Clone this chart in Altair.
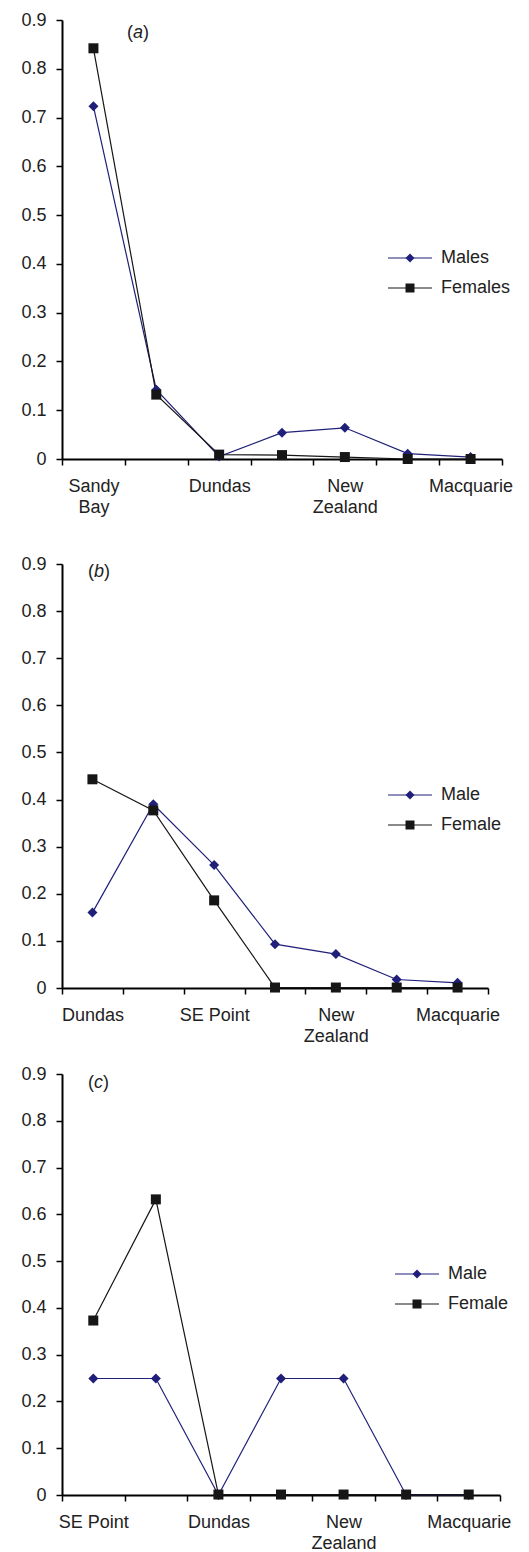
import altair as alt
import pandas as pd

FONT = "Liberation Sans"
NAVY = "#20207a"
BLACK = "#161616"

# ---- data ----
sites_a = ["Sandy Bay", " ", "Dundas", "  ", "New Zealand", "   ", "Macquarie"]
males_a = [0.723, 0.142, 0.005, 0.054, 0.064, 0.011, 0.004]
females_a = [0.842, 0.132, 0.009, 0.008, 0.004, 0.0, 0.0]

sites_b = ["Dundas", " ", "SE Point", "  ", "New Zealand", "   ", "Macquarie"]
males_b = [0.160, 0.390, 0.261, 0.093, 0.072, 0.018, 0.011]
females_b = [0.443, 0.377, 0.186, 0.001, 0.001, 0.001, 0.001]

sites_c = ["SE Point", " ", "Dundas", "  ", "New Zealand", "   ", "Macquarie"]
males_c = [0.249, 0.249, 0.0, 0.249, 0.249, 0.0, 0.0]
females_c = [0.373, 0.632, 0.001, 0.001, 0.001, 0.001, 0.001]

legend_a = ["Males", "Females"]
legend_bc = ["Male", "Female"]
marker_keys = ["m", "f"]
y_ticks = [0, 0.1, 0.2, 0.3, 0.4, 0.5, 0.6, 0.7, 0.8, 0.9]

LINE_SYMBOL = "M-4.9,0H4.9"

LABEL_EXPR = ("!isValid(datum.value) || trim(datum.value) == '' ? '' : "
              "(datum.value == 'SE Point' ? datum.value : split(datum.value, ' '))")


def panel(sites, male, female, labels, tag, tag_w, w, h, lx, ly, tx, ty):
    n = len(sites)
    df = pd.DataFrame({
        "site": sites + sites,
        "sex": [labels[0]] * n + [labels[1]] * n,
        "marker": [marker_keys[0]] * n + [marker_keys[1]] * n,
        "value": male + female,
        "idx": list(range(n)) * 2,
    })
    x = alt.X(
        "site:N", sort=sites,
        scale=alt.Scale(type="band", paddingInner=0, paddingOuter=0),
        axis=alt.Axis(
            title=None, labelAngle=0, tickBand="extent", labelPadding=12,
            labelLineHeight=21, labelExpr=LABEL_EXPR,
        ),
    )
    y = alt.Y(
        "value:Q", scale=alt.Scale(domain=[0, 0.9], nice=False),
        axis=alt.Axis(title=None, values=y_ticks, format="~g", labelPadding=10),
    )
    common = dict(title=None, orient="none", legendX=lx, legendY=ly, labelFont=FONT,
                  labelFontSize=18, labelColor="#222222", symbolSize=81,
                  rowPadding=12, labelOffset=22, padding=0)
    line_leg = alt.Legend(symbolType=LINE_SYMBOL, symbolStrokeWidth=1.2, **common)
    mark_leg = alt.Legend(labelExpr="''", symbolStrokeWidth=0, **common)

    base = alt.Chart(df)
    lines = base.mark_line(strokeWidth=1.2).encode(
        x=x, y=y, order="idx:Q",
        color=alt.Color("sex:N", scale=alt.Scale(domain=labels, range=[NAVY, BLACK]),
                        legend=line_leg),
    )
    pts = base.mark_point(filled=True, size=100, opacity=1).encode(
        x=x, y=y,
        fill=alt.Fill("marker:N", scale=alt.Scale(domain=marker_keys, range=[NAVY, BLACK]),
                      legend=mark_leg),
        shape=alt.Shape("marker:N", scale=alt.Scale(domain=marker_keys, range=["diamond", "square"]),
                        legend=mark_leg),
    )
    tdf = pd.DataFrame({"t": [0]})
    t1 = alt.Chart(tdf).mark_text(text="(", font=FONT, fontSize=18, align="left",
                                  baseline="middle", color="#222222").encode(
        x=alt.value(tx), y=alt.value(ty))
    t2 = alt.Chart(tdf).mark_text(text=tag, font=FONT, fontSize=18, fontStyle="italic",
                                  align="left", baseline="middle", color="#222222").encode(
        x=alt.value(tx + 6), y=alt.value(ty))
    t3 = alt.Chart(tdf).mark_text(text=")", font=FONT, fontSize=18, align="left",
                                  baseline="middle", color="#222222").encode(
        x=alt.value(tx + 6 + tag_w), y=alt.value(ty))
    return alt.layer(lines, pts, t1, t2, t3).properties(width=w, height=h)


pa = panel(sites_a, males_a, females_a, legend_a, "a", 10, 440, 439, 339, 229, 65, 13)
pb = panel(sites_b, males_b, females_b, legend_bc, "b", 10, 426, 424, 339, 222, 26, 8)
pc = panel(sites_c, males_c, females_c, legend_bc, "c", 9, 438, 421, 346, 191, 26, 9)

ind = dict(color="independent", fill="independent", shape="independent")
lower = alt.vconcat(pb, pc, spacing=20).resolve_scale(**ind).resolve_legend(**ind)
chart = alt.vconcat(pa, lower, spacing=39).resolve_scale(**ind).resolve_legend(**ind).properties(
    padding={"left": 12, "top": 3, "right": 5, "bottom": 5}
).configure_view(stroke=None).configure_axis(
    domainColor="black", domainWidth=2, tickColor="black", tickWidth=1.5,
    tickSize=6, labelFont=FONT, labelFontSize=18, labelColor="#222222", grid=False,
)

chart.save("out.html", embed_options={"renderer": "svg", "actions": False})
